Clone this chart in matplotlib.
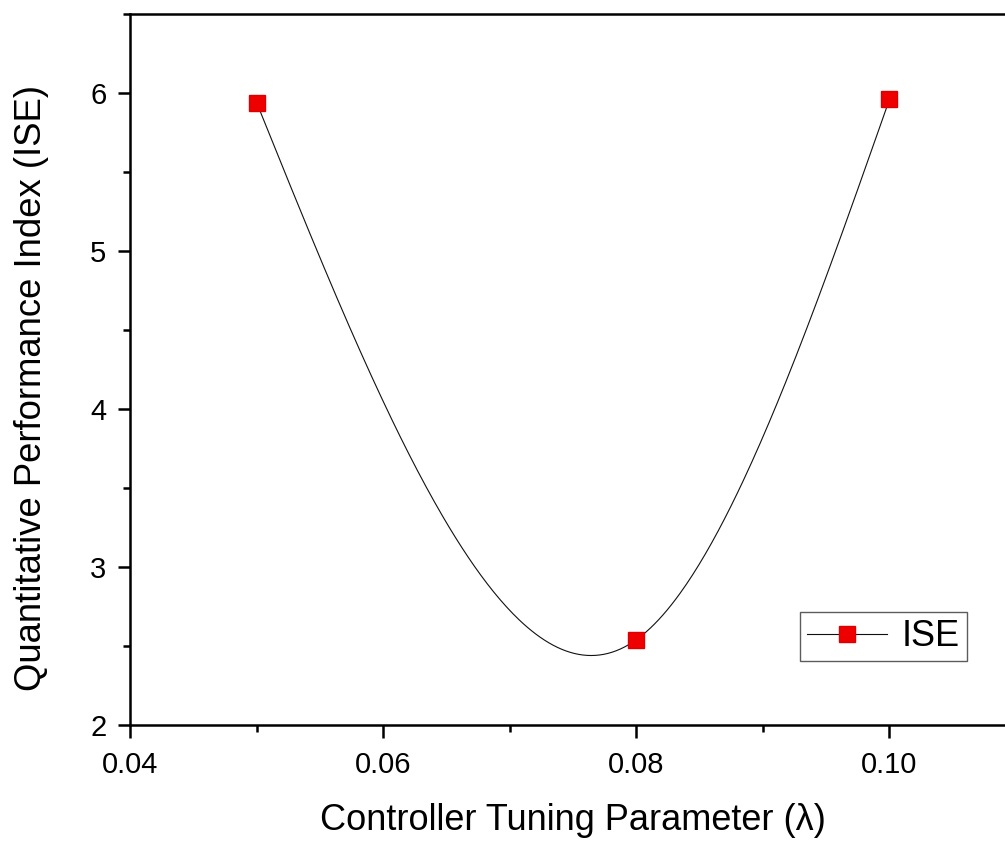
import numpy as np
import matplotlib

matplotlib.use("Agg")
import matplotlib.pyplot as plt
from matplotlib.ticker import MultipleLocator, FormatStrFormatter

plt.rcParams["font.family"] = ["Liberation Sans", "DejaVu Sans"]

# data
lam = [0.05, 0.08, 0.10]
ise = [5.94, 2.54, 5.96]
series_name = "ISE"


def natural_spline(x, y, n=300):
    # natural cubic spline through the points (Origin "spline" connect)
    x = np.asarray(x, float); y = np.asarray(y, float)
    h = np.diff(x)
    k = len(x)
    A = np.zeros((k, k)); b = np.zeros(k)
    A[0, 0] = A[-1, -1] = 1.0
    for i in range(1, k - 1):
        A[i, i - 1] = h[i - 1]
        A[i, i] = 2 * (h[i - 1] + h[i])
        A[i, i + 1] = h[i]
        b[i] = 6 * ((y[i + 1] - y[i]) / h[i] - (y[i] - y[i - 1]) / h[i - 1])
    M = np.linalg.solve(A, b)
    xs = np.linspace(x[0], x[-1], n)
    idx = np.clip(np.searchsorted(x, xs) - 1, 0, k - 2)
    x0, x1 = x[idx], x[idx + 1]; hh = h[idx]
    ys = (M[idx] * (x1 - xs) ** 3 / (6 * hh) + M[idx + 1] * (xs - x0) ** 3 / (6 * hh)
          + (y[idx] / hh - M[idx] * hh / 6) * (x1 - xs)
          + (y[idx + 1] / hh - M[idx + 1] * hh / 6) * (xs - x0))
    return xs, ys


fig = plt.figure(figsize=(10.05, 8.41), dpi=100)
ax = fig.add_axes([0.1294, 0.1379, 0.8816, 0.8454])

xs, ys = natural_spline(lam, ise)
ax.plot(xs, ys, color="#111111", lw=0.8)
ax.plot(lam, ise, ls="none", marker="s", ms=11, color="#ee0000", mec="#dd0000")
# legend proxy: line + marker
ax.plot([], [], color="#111111", lw=0.8, marker="s", ms=11, mfc="#ee0000", mec="#dd0000", label=series_name)

ax.set_xlim(0.04, 0.11)
ax.set_ylim(2, 6.5)
ax.xaxis.set_major_locator(MultipleLocator(0.02))
ax.xaxis.set_minor_locator(MultipleLocator(0.01))
ax.yaxis.set_major_locator(MultipleLocator(1))
ax.yaxis.set_minor_locator(MultipleLocator(0.5))
ax.xaxis.set_major_formatter(FormatStrFormatter("%.2f"))

for s in ax.spines.values():
    s.set_linewidth(1.8)
ax.tick_params(which="major", direction="out", length=9, width=1.8, labelsize=21)
ax.tick_params(axis="x", which="major", pad=10)
ax.tick_params(axis="y", which="major", pad=8)
ax.tick_params(which="minor", direction="out", length=5, width=1.8)

ax.set_xlabel("Controller Tuning Parameter (\u03bb)", fontsize=26, labelpad=17)
ax.set_ylabel("Quantitative Performance Index (ISE)", fontsize=26.3)
ax.yaxis.set_label_coords(-0.092, 0.4747)

leg = ax.legend(loc="upper left", bbox_to_anchor=(0.7562, 0.1589), frameon=True, fancybox=False,
                fontsize=26, handlelength=2.2, handletextpad=0.4, borderpad=0.2,
                borderaxespad=0, numpoints=1)
leg.get_frame().set_edgecolor("#333333")
leg.get_frame().set_linewidth(1.0)

fig.savefig("out.png", dpi=100)
